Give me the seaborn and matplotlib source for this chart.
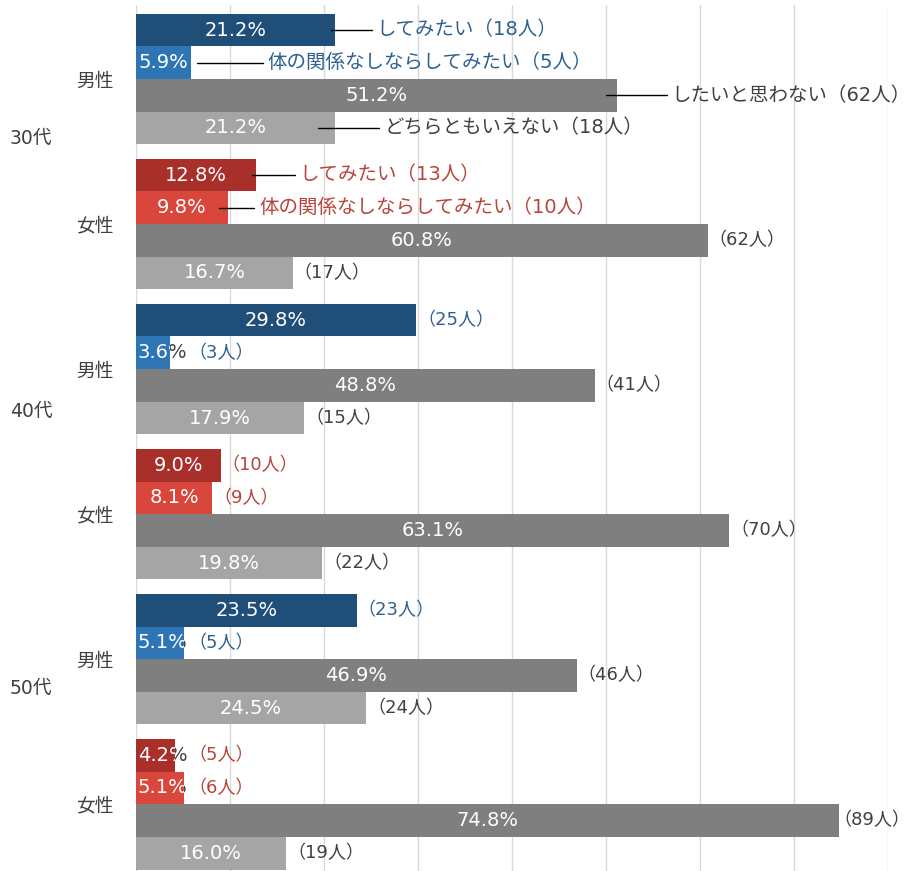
import matplotlib
matplotlib.use("Agg")
import matplotlib.pyplot as plt
import matplotlib.transforms as mtransforms
from matplotlib.patches import Rectangle
import pandas as pd
import seaborn as sns

# rows: 30代男性, 30代女性, 40代男性, 40代女性, 50代男性, 50代女性
ages = ["30代", "40代", "50代"]
genders = ["男性", "女性"]
answers = ["してみたい", "体の関係なしならしてみたい", "したいと思わない", "どちらともいえない"]

pct_want = [21.2, 12.8, 29.8, 9.0, 23.5, 4.2]
pct_platonic = [5.9, 9.8, 3.6, 8.1, 5.1, 5.1]
pct_no = [51.2, 60.8, 48.8, 63.1, 46.9, 74.8]
pct_neither = [21.2, 16.7, 17.9, 19.8, 24.5, 16.0]

n_want = [18, 13, 25, 10, 23, 5]
n_platonic = [5, 10, 3, 9, 5, 6]
n_no = [62, 62, 41, 70, 46, 89]
n_neither = [18, 17, 15, 22, 24, 19]

groups = [a + g for a in ages for g in genders]
pcts = [pct_want, pct_platonic, pct_no, pct_neither]
counts = [n_want, n_platonic, n_no, n_neither]

rows = []
for j, ans in enumerate(answers):
    for i, grp in enumerate(groups):
        rows.append({"group": grp, "answer": ans, "pct": pcts[j][i], "n": counts[j][i]})
df = pd.DataFrame(rows)

male_colors = ["#1F4E79", "#2E75B6", "#7F7F7F", "#A5A5A5"]
female_colors = ["#A9302A", "#D9463B", "#7F7F7F", "#A5A5A5"]
male_text = ["#2E6192", "#2E6192", "#404040", "#404040"]
female_text = ["#B8443A", "#B8443A", "#404040", "#404040"]

# callouts with leader lines (first age group only): (line start x, text x)
callouts = {
    (0, 0): (20.7, 25.6),
    (0, 1): (6.5, 14.0),
    (0, 2): (50.0, 57.0),
    (0, 3): (19.4, 26.4),
    (1, 0): (12.3, 17.4),
    (1, 1): (8.8, 13.1),
}

sns.set_style("white")
plt.rcParams["font.family"] = ["DejaVu Sans", "Noto Sans CJK JP"]
LABEL_FONT = ["DejaVu Sans", "Noto Sans CJK JP"]

fig = plt.figure(figsize=(9.12, 8.71), dpi=100)
ax = fig.add_axes([136 / 912, 0, 752 / 912, 866 / 871])

sns.barplot(data=df, x="pct", y="group", hue="answer", order=groups, hue_order=answers,
            palette=male_colors, width=0.9, saturation=1, orient="h", legend=False,
            linewidth=0, ax=ax)

ax.set_xlim(0, 80)
ax.set_ylim(5.46, -0.51)
ax.set_xticks(range(0, 81, 10))
ax.xaxis.grid(True, color="#D9D9D9", linewidth=1)
ax.set_axisbelow(True)
ax.tick_params(axis="x", length=0, labelbottom=False)
ax.tick_params(axis="y", length=0, pad=16)
ax.set_yticks(range(len(groups)))
ax.set_yticklabels(genders * len(ages), fontsize=13.5, color="#404040")
ax.set_xlabel("")
ax.set_ylabel("")
for s in ax.spines.values():
    s.set_visible(False)

# age labels
age_y = [0.41, 2.29, 4.20]
trans = mtransforms.blended_transform_factory(ax.transAxes, ax.transData)
for a, y in zip(ages, age_y):
    ax.text(-0.168, y, a, transform=trans, ha="left", va="center", fontsize=13.5, color="#404040")

fig.canvas.draw()
renderer = fig.canvas.get_renderer()
inv = ax.transData.inverted()
fig_w = fig.bbox.width

for j, cont in enumerate(ax.containers):
    for bar in cont.patches:
        h = bar.get_height()
        yc = bar.get_y() + h / 2
        i = int(round(yc))
        female = i % 2 == 1
        if female:
            bar.set_facecolor(female_colors[j])
        tcol = female_text[j] if female else male_text[j]
        w = bar.get_width()
        p = pcts[j][i]
        n = counts[j][i]
        lab = f"{p:.1f}%"

        t = ax.text(w / 2, yc, lab, ha="center", va="center", color="white",
                    fontsize=14, family=LABEL_FONT, zorder=4)
        bb = t.get_window_extent(renderer)
        tw = inv.transform((bb.x1, 0))[0] - inv.transform((bb.x0, 0))[0]
        end_x = w
        if tw > w - 0.4:
            t.set_position((0.2, yc))
            t.set_ha("left")
            t.set_clip_on(True)
            t.set_clip_path(bar)
            dark = ax.text(0.2, yc, lab, ha="left", va="center", color="#404040",
                           fontsize=14, family=LABEL_FONT, zorder=3, clip_on=True)
            outside = Rectangle((w, yc - h / 2), 80, h, transform=ax.transData)
            dark.set_clip_path(outside)
            end_x = 0.2 + tw

        if (i, j) in callouts:
            x0, tx = callouts[(i, j)]
            ax.plot([x0, tx - 0.5], [yc, yc], color="black", linewidth=1, zorder=5)
            ax.text(tx, yc, f"{answers[j]}（{n}人）", ha="left", va="center",
                    color=tcol, fontsize=14, family=LABEL_FONT, zorder=5)
        else:
            c = ax.text(end_x + 0.1, yc, f"（{n}人）", ha="left", va="center",
                        color=tcol, fontsize=13, family=LABEL_FONT, zorder=5, clip_on=False)
            cb = c.get_window_extent(renderer)
            if cb.x1 > fig_w - 1:
                shift = inv.transform((cb.x1 - fig_w + 2, 0))[0] - inv.transform((0, 0))[0]
                c.set_x(end_x + 0.1 - shift)

fig.savefig("out.png", dpi=100)
